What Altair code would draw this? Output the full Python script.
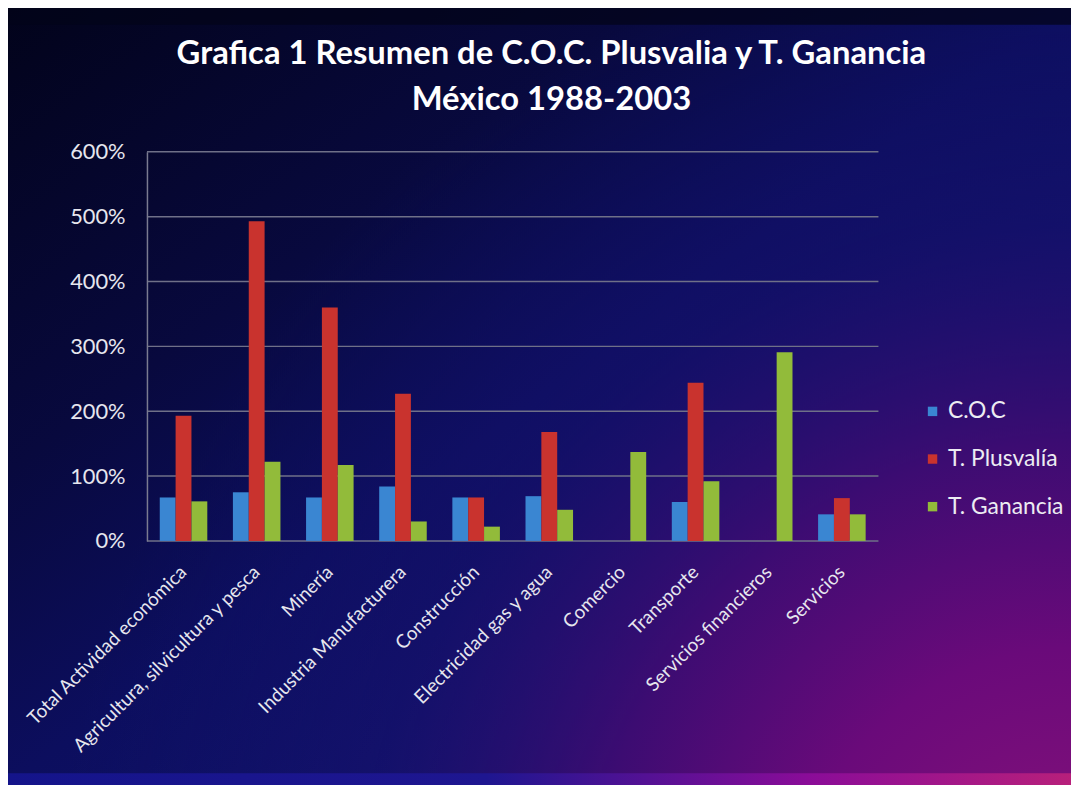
import altair as alt
import pandas as pd

categories = [
    "Total Actividad económica",
    "Agricultura, silvicultura y pesca",
    "Minería",
    "Industria Manufacturera",
    "Construcción",
    "Electricidad gas y agua",
    "Comercio",
    "Transporte",
    "Servicios financieros",
    "Servicios",
]
series = ["C.O.C", "T. Plusvalía", "T. Ganancia"]
coc = [0.67, 0.75, 0.67, 0.84, 0.67, 0.69, None, 0.60, None, 0.41]
plusvalia = [1.93, 4.93, 3.60, 2.27, 0.67, 1.68, None, 2.44, None, 0.66]
ganancia = [0.61, 1.22, 1.17, 0.30, 0.22, 0.48, 1.37, 0.92, 2.91, 0.41]
y_ticks = [0, 1, 2, 3, 4, 5, 6]
series_colors = ["#3a86d2", "#c9332e", "#92bb3a"]

rows = []
for name, vals in zip(series, [coc, plusvalia, ganancia]):
    for c, v in zip(categories, vals):
        if v is not None:
            rows.append({"cat": c, "serie": name, "valor": v})
df = pd.DataFrame(rows)
grid_df = pd.DataFrame({"v": y_ticks})
bg_df = pd.DataFrame({"k": [0]})

W, H = 737, 392
PL, PT, PR, PB = 140, 142, 194, 243
EXT = 6
FONT = "Lato"

full = dict(
    x=alt.value(-PL - EXT), x2=alt.value(W + PR + EXT),
    y=alt.value(-PT - EXT), y2=alt.value(H + PB + EXT),
)

bg = alt.Chart(bg_df).mark_rect(
    fill=alt.Gradient(
        gradient="linear",
        x1=0, y1=0, x2=1, y2=1,
        stops=[
            alt.GradientStop(color="#02031a", offset=0),
            alt.GradientStop(color="#08093e", offset=0.3),
            alt.GradientStop(color="#0c0e5e", offset=0.5),
            alt.GradientStop(color="#10126a", offset=0.7),
            alt.GradientStop(color="#14126e", offset=1.0),
        ],
    )
).encode(**full)

glow = alt.Chart(bg_df).mark_rect(
    fill=alt.Gradient(
        gradient="radial",
        x1=1, y1=1, r1=0, x2=1, y2=1, r2=0.95,
        stops=[
            alt.GradientStop(color="#7a2060", offset=0),
            alt.GradientStop(color="#80107a", offset=0.1),
            alt.GradientStop(color="#6a0a7a", offset=0.28),
            alt.GradientStop(color="#3c0c72", offset=0.48),
            alt.GradientStop(color="rgba(24,16,110,0.45)", offset=0.7),
            alt.GradientStop(color="rgba(16,18,108,0)", offset=1.0),
        ],
    )
).encode(**full)

top_strip = alt.Chart(bg_df).mark_rect(fill="#03041a", opacity=0.75).encode(
    x=alt.value(-PL - EXT), x2=alt.value(W + PR + EXT),
    y=alt.value(-PT - EXT), y2=alt.value(-PT + 14),
)

bottom_strip = alt.Chart(bg_df).mark_rect(
    fill=alt.Gradient(
        gradient="linear", x1=0, y1=0, x2=1, y2=0,
        stops=[
            alt.GradientStop(color="#14148a", offset=0),
            alt.GradientStop(color="#1e1690", offset=0.45),
            alt.GradientStop(color="#8a0c98", offset=0.75),
            alt.GradientStop(color="#b8207a", offset=1.0),
        ],
    )
).encode(
    x=alt.value(-PL - EXT), x2=alt.value(W + PR + EXT),
    y=alt.value(H + PB - 9), y2=alt.value(H + PB + EXT),
)

yscale = alt.Scale(domain=[0, 6], nice=False)
y_axis = alt.Axis(
    title=None, values=y_ticks, format=".0%", grid=False, ticks=False,
    domain=True, domainColor="#7a7b90", domainWidth=1.5,
    labelColor="#e6e6ee", labelFontSize=22, labelFont=FONT, labelPadding=22,
    zindex=1,
)

grid = alt.Chart(grid_df).mark_rule(color="#6f7088", strokeWidth=1.5).encode(
    y=alt.Y("v:Q", scale=yscale, axis=y_axis)
)

bars = alt.Chart(df).mark_bar().encode(
    x=alt.X(
        "cat:N",
        sort=categories,
        scale=alt.Scale(domain=categories, paddingInner=0.35, paddingOuter=0.175),
        axis=alt.Axis(
            title=None, labelAngle=-45, labelAlign="right", labelBaseline="middle",
            labelPadding=28, ticks=False, domain=False, labelColor="#e6e6ee",
            labelFontSize=19, labelFont=FONT, labelLimit=400, zindex=1,
        ),
    ),
    xOffset=alt.XOffset("serie:N", sort=series, scale=alt.Scale(domain=series)),
    y=alt.Y("valor:Q", scale=yscale, axis=y_axis),
    color=alt.Color(
        "serie:N", sort=series,
        scale=alt.Scale(domain=series, range=series_colors),
        legend=alt.Legend(
            title=None, orient="none", legendX=780, legendY=250,
            symbolType="square", symbolSize=90, symbolStrokeWidth=0,
            labelColor="#ececf2", labelFontSize=23, labelFont=FONT,
            rowPadding=24, labelOffset=4, zindex=1,
        ),
    ),
)

chart = alt.layer(bg, glow, top_strip, bottom_strip, grid, bars).properties(
    width=W, height=H,
    padding={"left": PL, "top": PT, "right": PR, "bottom": PB},
    autosize=alt.AutoSizeParams(type="none"),
    background="#02031a",
    title=alt.TitleParams(
        text=["Grafica 1 Resumen de C.O.C. Plusvalia y T. Ganancia", "México 1988-2003"],
        color="white", font=FONT, fontSize=33, fontWeight="bold",
        anchor="middle", frame="group", dx=39, offset=-(EXT + 107),
        lineHeight=46, zindex=1,
    ),
).configure_view(stroke=None)

chart.save("out.html", embed_options={"renderer": "svg", "actions": False})
